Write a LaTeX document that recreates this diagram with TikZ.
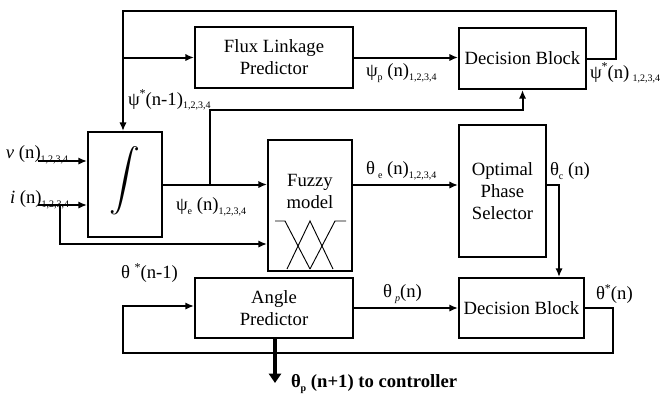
\documentclass[tikz,border=0pt]{standalone}
\usepackage{fontspec}
\usepackage{graphicx}
\setmainfont{Liberation Serif}
\usetikzlibrary{arrows.meta}
\newcommand\sbs[1]{\raisebox{-0.45ex}{\fontsize{7.5}{8}\selectfont #1}}
\newcommand\spr{\raisebox{0.9ex}{\fontsize{9}{9}\selectfont *}}
\begin{document}
\begin{tikzpicture}[x=0.75pt,y=-0.75pt, font=\fontsize{14}{16.5}\selectfont, line width=1.5pt,
  blk/.style={draw, line width=1.5pt, inner sep=0pt, align=center},
  arr/.style={-{Latex[length=6.5pt,width=5.5pt]}},
  thickarr/.style={line width=2.4pt,-{Triangle[length=7pt,width=9pt]}},
  lbl/.style={anchor=west, inner sep=0pt},
  mf/.style={line width=0.7pt}]
\useasboundingbox (0,0) rectangle (666,397);

% blocks
\node[blk, minimum width=118.5pt, minimum height=45.75pt] (flux) at (274,57.5) {Flux Linkage\\Predictor};
\node[blk, minimum width=95.25pt, minimum height=45.75pt] (dec1) at (522.5,58.5) {Decision Block};
\node[blk, minimum width=55.5pt, minimum height=78.75pt] (integ) at (125,184.5) {};
\node[inner sep=0pt] (intsym) at (125,181) {\resizebox{!}{34pt}{$\displaystyle\int$}};
\node[blk, minimum width=63pt, minimum height=98.25pt] (fuzzy) at (310,205.5) {};
\node[inner sep=0pt, align=center] (fuzzytext) at (310,191) {Fuzzy\\model};
\node[blk, minimum width=65.25pt, minimum height=99pt] (ops) at (502.5,191) {Optimal\\Phase\\Selector};
\node[blk, minimum width=93.75pt, minimum height=45pt] (dec2) at (521.5,308) {Decision Block};
\node[blk, minimum width=118.5pt, minimum height=45pt] (angle) at (274,308) {Angle\\Predictor};

% membership functions
\draw[mf] (275,221) -- (285,221) -- (310,269);
\draw[mf] (287,269) -- (310,221) -- (333,269);
\draw[mf] (310,269) -- (335,221) -- (346,221);

% coordinates
\coordinate (tl) at (123,11);
\coordinate (tr) at (616,11);
\coordinate (b1) at (123,57.5);
\coordinate (vin) at (38,161);
\coordinate (iin) at (38,205);
\coordinate (ib) at (60,205);
\coordinate (eb) at (210,184.5);
\coordinate (fb) at (613,353);
\coordinate (out) at (275,383);

% connectors
\draw[arr] (dec1.east) -- (tr |- dec1.east) -- (tr) -- (tl) -- (tl |- integ.north);
\draw[arr] (b1) -- (flux.west |- b1);
\draw[arr] (flux.east) -- (dec1.west |- flux.east);
\draw[arr] (vin) -- (vin -| integ.west);
\draw[arr] (iin) -- (iin -| integ.west);
\draw[arr] (ib) -- (60,244) -- (fuzzy.west |- 0,244);
\draw[arr] (integ.east |- eb) -- (fuzzy.west |- eb);
\draw[arr] (eb) -- (210,110) -| (dec1.south);
\draw[arr] (fuzzy.east |- 0,185) -- (ops.west |- 0,185);
\draw[arr] (ops.east |- 0,185) -- (559,185) -- (559,0 |- dec2.north);
\draw[arr] (angle.east) -- (dec2.west);
\draw[arr] (dec2.east) -- (fb |- dec2.east) -- (fb) -- (123,353) -- (123,306) -- (angle.west |- 0,306);
\draw[thickarr] (angle.south -| out) -- (out);

% labels
\node[lbl] (l1) at (365,73) {ψ\sbs{p} (n)\sbs{1,2,3,4}};
\node[lbl] (l2) at (589,73) {ψ\spr(n)\,\sbs{1,2,3,4}};
\node[lbl] (l3) at (127,100) {ψ\spr(n-1)\sbs{1,2,3,4}};
\node[lbl] (l4) at (5,155) {\textit{v} (n)\sbs{1,2,3,4}};
\node[lbl] (l5) at (9,200) {\textit{i} (n)\sbs{1,2,3,4}};
\node[lbl] (l6) at (175,207) {ψ\sbs{e} (n)\sbs{1,2,3,4}};
\node[lbl] (l7) at (365,171) {θ\,\sbs{e} (n)\sbs{1,2,3,4}};
\node[lbl] (l8) at (549,171) {θ\sbs{c} (n)};
\node[lbl] (l9) at (120,273) {θ \spr(n-1)};
\node[lbl] (l10) at (382,294) {θ\,\sbs{\textit{p}}(n)};
\node[lbl] (l11) at (595,294) {θ\spr(n)};
\node[lbl] (l12) at (290,384) {\bfseries θ\sbs{p} (n+1) to controller};
\end{tikzpicture}
\end{document}
